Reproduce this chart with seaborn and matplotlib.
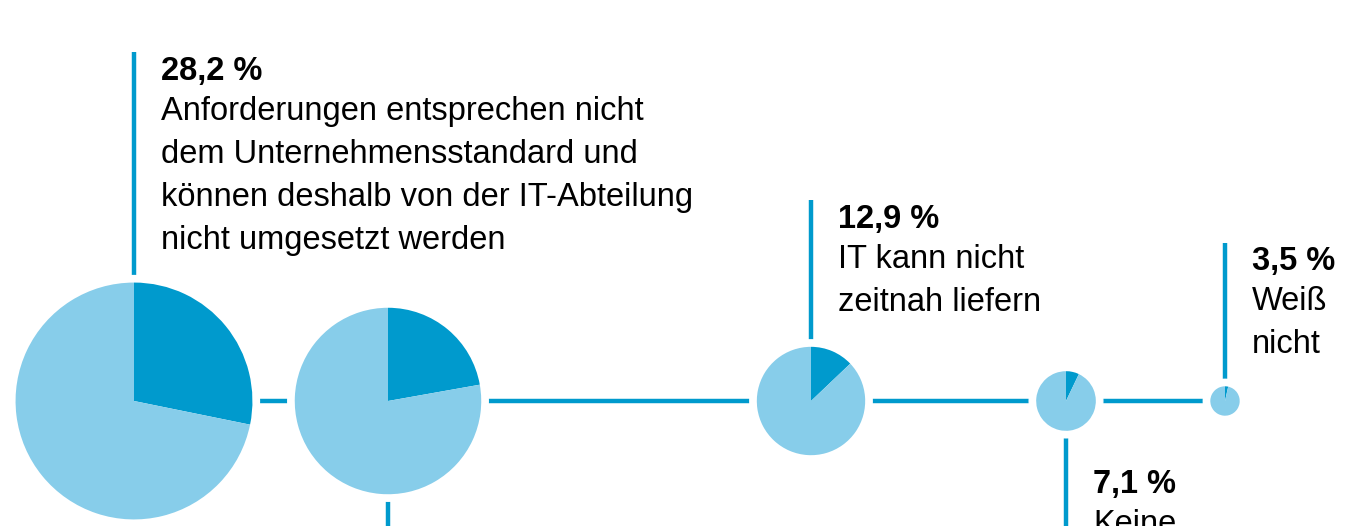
import matplotlib
matplotlib.use("Agg")
import matplotlib.pyplot as plt
import seaborn as sns

# ------------------------------------------------------------
# Daten
# ------------------------------------------------------------
values = [28.2, 22.2, 12.9, 7.1, 3.5]
# Beschriftung der zweiten Torte liegt im Original außerhalb des Bildes
value_labels = ["28,2 %", "", "12,9 %", "7,1 %", "3,5 %"]
descriptions = [
    "Anforderungen entsprechen nicht\ndem Unternehmensstandard und\nkönnen deshalb von der IT-Abteilung\nnicht umgesetzt werden",
    "",
    "IT kann nicht\nzeitnah liefern",
    "Keine",
    "Weiß\nnicht",
]
sides = ["top", "bottom", "top", "bottom", "top"]

# ------------------------------------------------------------
# Layout (Pixel, y nach oben)
# ------------------------------------------------------------
W, H = 1368, 526
centers_x = [134, 388, 811, 1066, 1225]
base_y = 125
px_per_pct = 4.2
line_end = [474, -10, 326, -10, 283]     # Ende der Führungslinie
text_top = [470, -80, 322, 57, 280]      # Oberkante der Prozentzahl
gap = 7
fs = 23.5

dark = "#009ACD"
light = "#87CDEA"

sns.set_theme(style="white")
plt.rcParams["font.family"] = ["Liberation Sans", "DejaVu Sans"]

fig = plt.figure(figsize=(W / 100, H / 100), dpi=100)
ax = fig.add_axes([0, 0, 1, 1])

# horizontale Verbindungslinie
ax.plot([centers_x[0], centers_x[-1]], [base_y, base_y], color=dark, lw=3.2,
        solid_capstyle="butt", zorder=1)

for v, lab, desc, side, cx, le, tt in zip(values, value_labels, descriptions,
                                          sides, centers_x, line_end, text_top):
    r = v * px_per_pct
    # weißer Rand um die Torte
    ax.add_patch(plt.Circle((cx, base_y), r + gap, color="white", zorder=2))
    ax.pie([v, 100 - v], colors=[dark, light], startangle=90, counterclock=False,
           center=(cx, base_y), radius=r, frame=True,
           wedgeprops=dict(linewidth=0, zorder=3))
    # Führungslinie
    y0 = base_y + r + gap if side == "top" else base_y - r - gap
    ax.plot([cx, cx], [y0, le], color=dark, lw=3.2,
            solid_capstyle="butt", zorder=1)
    if not lab:
        continue
    tx = cx + 27
    ax.text(tx, tt, lab, fontsize=fs, fontweight="bold", color="black",
            va="top", ha="left", zorder=4)
    ax.text(tx, tt - 40, desc, fontsize=fs, color="black", va="top",
            ha="left", linespacing=1.5, zorder=4)

ax.set_xlim(0, W)
ax.set_ylim(0, H)
ax.set_aspect("equal")
ax.axis("off")

fig.savefig("out.png", dpi=100, facecolor="white")
